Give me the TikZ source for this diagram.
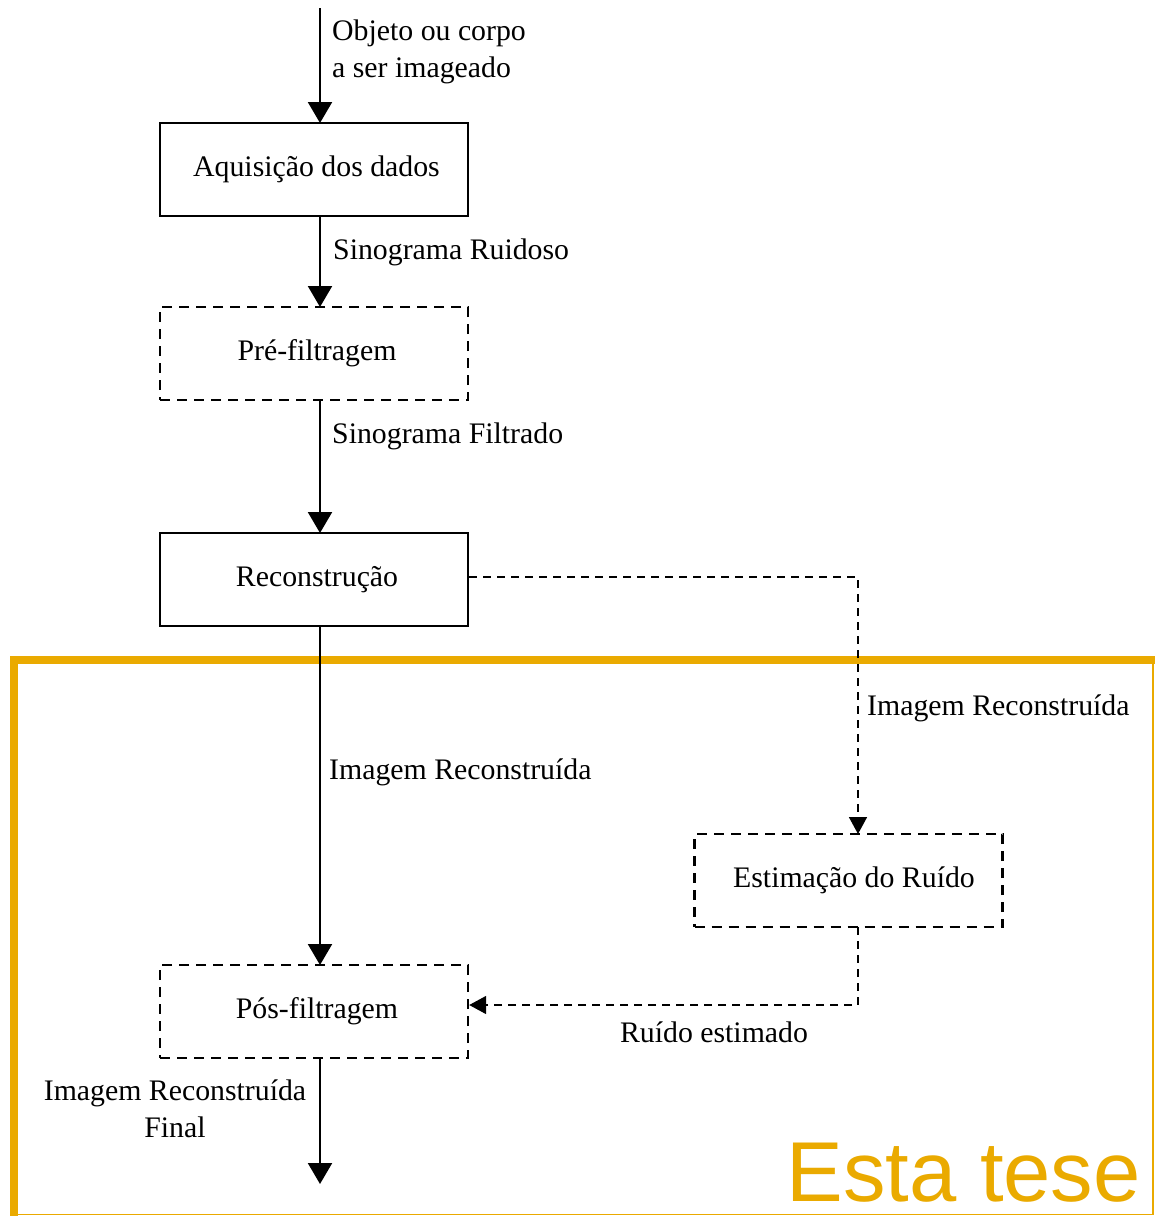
\documentclass[tikz,border=0pt]{standalone}
\usepackage{fontspec}
\setmainfont{Liberation Serif}
\newfontfamily\thesisfont{Liberation Sans}
\usetikzlibrary{arrows.meta}
\definecolor{tesecol}{HTML}{EAAA00}
\tikzset{
  box/.style={draw, line width=2.5pt, minimum width=308pt, minimum height=93pt, inner sep=0pt, font=\fontsize{29.8}{34}\selectfont},
  dbox/.style={box, line width=2.4pt, dash pattern=on 10pt off 7pt},
  flow/.style={line width=2.2pt, -{Triangle[width=24pt,length=21pt]}},
  dflow/.style={line width=1.7pt, dash pattern=on 8pt off 6pt, -{Triangle[width=18pt,length=17pt]}},
  lbl/.style={font=\fontsize{29.8}{37}\selectfont, inner sep=0pt},
}
\newcommand{\boxtext}[2]{\raisebox{-3pt}{\hspace*{#1pt}#2}}
\begin{document}
\begin{tikzpicture}[x=1pt,y=-1pt]
\useasboundingbox (0,0) rectangle (1155,1216);
% frame
\draw[tesecol, line width=1.5pt] (1153,660) -- (1153,1214.5) -- (13,1214.5);
\draw[tesecol, line width=8pt] (13.5,1216) -- (13.5,660) -- (1155,660);
\node[anchor=base east, text=tesecol, inner sep=0pt, font=\thesisfont\fontsize{85}{90}\selectfont] (tese) at (1141,1201) {Esta tese};

\coordinate (start) at (320,8);
\node[box]  (acq) at (314,169.5) {\boxtext{5}{Aquisição dos dados}};
\node[dbox] (pre) at (314,353.5) {\boxtext{6}{Pré-filtragem}};
\node[box]  (rec) at (314,579.5) {\boxtext{6}{Reconstrução}};
\node[dbox] (est) at (848.5,880.5) {\boxtext{11}{Estimação do Ruído}};
\node[dbox] (pos) at (314,1011.5) {\boxtext{6}{Pós-filtragem}};
\coordinate (end) at (320,1184);

\draw[flow] (start) -- (320,123);
\draw[flow] (320,216) -- (320,307);
\draw[flow] (320,400) -- (320,533);
\draw[flow] (320,626) -- (320,965);
\draw[flow] (320,1058) -- (end);
\draw[dflow] (rec.east |- 0,577) -- (858,577) -- (858,834);
\draw[dflow] (858,927) -- (858,1005) -- (pos.east |- 0,1005);

\node[lbl, anchor=west, align=left] (l1) at (332,52) {Objeto ou corpo\\a ser imageado};
\node[lbl, anchor=west] (l2) at (333,252) {Sinograma Ruidoso};
\node[lbl, anchor=west] (l3) at (332,436) {Sinograma Filtrado};
\node[lbl, anchor=west] (l4) at (867,708) {Imagem Reconstruída};
\node[lbl, anchor=west] (l5) at (329,772) {Imagem Reconstruída};
\node[lbl] (l6) at (714,1032) {Ruído estimado};
\node[lbl, align=center] (l7) at (175,1109) {Imagem Reconstruída\\Final};
\end{tikzpicture}
\end{document}
